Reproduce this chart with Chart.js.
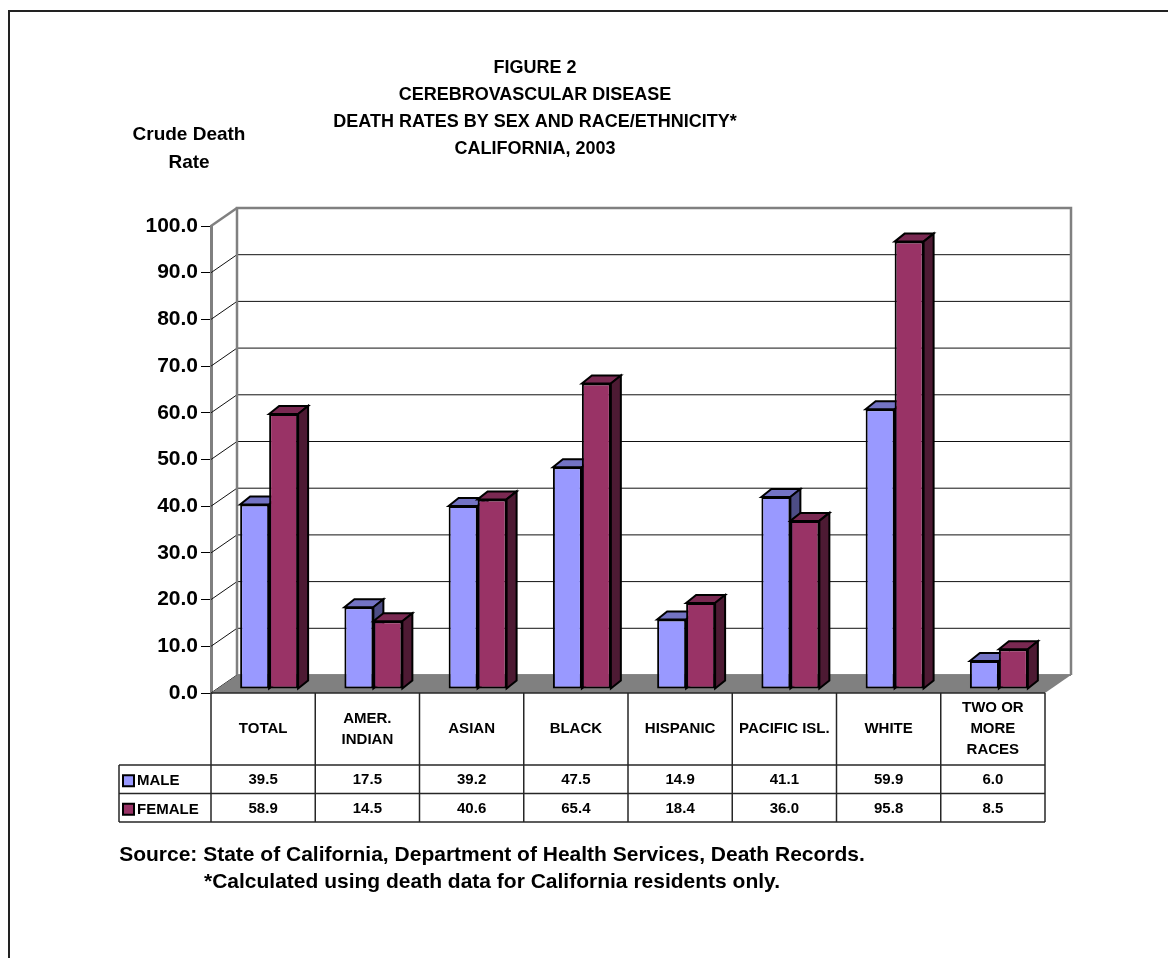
<!DOCTYPE html>
<html>
<head>
<meta charset="utf-8">
<title>Cerebrovascular Disease Death Rates by Sex and Race/Ethnicity, California 2003</title>
<script src="https://cdn.jsdelivr.net/npm/chart.js@4.4.1/dist/chart.umd.min.js"></script>
<style>
  html, body { margin: 0; padding: 0; background: #ffffff; }
  canvas { display: block; }
</style>
</head>
<body>
<canvas id="chart" width="1168" height="958"></canvas>
<script>
// ---- data ----
const categories = ['TOTAL', ['AMER.', 'INDIAN'], 'ASIAN', 'BLACK', 'HISPANIC', 'PACIFIC ISL.', 'WHITE', ['TWO OR', 'MORE', 'RACES']];
const maleRates = [39.5, 17.5, 39.2, 47.5, 14.9, 41.1, 59.9, 6.0];
const femaleRates = [58.9, 14.5, 40.6, 65.4, 18.4, 36.0, 95.8, 8.5];
const seriesNames = ['MALE', 'FEMALE'];
const yMin = 0;
const yMax = 100;
const yStep = 10;
const titleLines = ['FIGURE 2', 'CEREBROVASCULAR DISEASE', 'DEATH RATES BY SEX AND RACE/ETHNICITY*', 'CALIFORNIA, 2003'];
const axisTitleLines = ['Crude Death', 'Rate'];
const sourceLines = [
  'Source: State of California, Department of Health Services, Death Records.',
  '*Calculated using death data for California residents only.'
];

// ---- styling ----
const FONT = '"Liberation Sans", Arial, Helvetica, sans-serif';
const faces = [
  { front: '#9999FF', top: '#7373C4', side: '#4D4D86' },
  { front: '#993366', top: '#7A2952', side: '#4D1A33' }
];
const WALL_DX = 26, WALL_DY = -18;   // depth of the back wall
const BAR_OX = 6, BAR_OY = -4;       // bars sit slightly behind the front plane
const BAR_DX = 10, BAR_DY = -8;      // depth of each bar
const WALL_GRAY = '#808080';

function polygon(ctx, pts, fill, stroke, lw) {
  ctx.beginPath();
  ctx.moveTo(pts[0][0], pts[0][1]);
  for (let k = 1; k < pts.length; k++) ctx.lineTo(pts[k][0], pts[k][1]);
  ctx.closePath();
  if (fill) { ctx.fillStyle = fill; ctx.fill(); }
  if (stroke) { ctx.strokeStyle = stroke; ctx.lineWidth = lw; ctx.stroke(); }
}

function line(ctx, x1, y1, x2, y2, color, lw) {
  ctx.beginPath();
  ctx.moveTo(x1, y1);
  ctx.lineTo(x2, y2);
  ctx.strokeStyle = color;
  ctx.lineWidth = lw;
  ctx.stroke();
}

// Page background, frame, titles and the data table under the plot
const pagePlugin = {
  id: 'page',
  beforeDraw(chart) {
    const ctx = chart.ctx;
    ctx.save();
    ctx.fillStyle = '#ffffff';
    ctx.fillRect(0, 0, chart.width, chart.height);
    ctx.strokeStyle = '#222222';
    ctx.lineWidth = 2;
    ctx.strokeRect(9, 11, chart.width + 100, chart.height + 100);
    ctx.restore();
  },
  afterDraw(chart) {
    const ctx = chart.ctx;
    const xs = chart.scales.x;
    const area = chart.chartArea;
    ctx.save();
    ctx.fillStyle = '#000000';
    ctx.textBaseline = 'middle';

    // chart title
    ctx.font = 'bold 18px ' + FONT;
    ctx.textAlign = 'center';
    titleLines.forEach((t, k) => ctx.fillText(t, 535, 68.5 + k * 27));

    // value axis title
    ctx.font = 'bold 19px ' + FONT;
    axisTitleLines.forEach((t, k) => ctx.fillText(t, 189, 134.5 + k * 28.5));

    // data table
    const n = chart.data.labels.length;
    const half = (xs.getPixelForValue(1) - xs.getPixelForValue(0)) / 2;
    const edges = [];
    for (let i = 0; i < n; i++) edges.push(xs.getPixelForValue(i) - half);
    edges.push(xs.getPixelForValue(n - 1) + half);
    const top = area.bottom;
    const headBottom = top + 72;
    const rowH = 28.5;
    const legendLeft = 119;
    const tableBottom = headBottom + 2 * rowH;
    const tcol = '#262626';

    line(ctx, edges[0], top, edges[n], top, tcol, 1.5);
    for (let r = 0; r <= 2; r++) {
      const y = headBottom + r * rowH;
      line(ctx, legendLeft, y, edges[n], y, tcol, 1.5);
    }
    line(ctx, legendLeft, headBottom, legendLeft, tableBottom, tcol, 1.5);
    edges.forEach(x => line(ctx, x, top, x, tableBottom, tcol, 1.5));

    // column headings
    ctx.fillStyle = '#000000';
    ctx.font = 'bold 15px ' + FONT;
    ctx.textAlign = 'center';
    const headMid = (top + headBottom) / 2;
    chart.data.labels.forEach((lab, i) => {
      const lines = Array.isArray(lab) ? lab : [lab];
      const cx = xs.getPixelForValue(i);
      lines.forEach((t, k) => ctx.fillText(t, cx, headMid + (k - (lines.length - 1) / 2) * 21));
    });

    // value rows with legend keys
    chart.data.datasets.forEach((ds, d) => {
      const mid = headBottom + d * rowH + rowH / 2 + 1;
      ctx.textAlign = 'center';
      ctx.fillStyle = '#000000';
      ds.data.forEach((v, i) => ctx.fillText(v.toFixed(1), xs.getPixelForValue(i), mid));
      ctx.fillStyle = faces[d].front;
      ctx.fillRect(123, mid - 5, 11, 11);
      ctx.strokeStyle = '#000000';
      ctx.lineWidth = 2;
      ctx.strokeRect(123, mid - 5, 11, 11);
      ctx.fillStyle = '#000000';
      ctx.textAlign = 'left';
      ctx.fillText(ds.label, 137, mid + 1);
    });

    // footnotes
    ctx.font = 'bold 21px ' + FONT;
    ctx.textAlign = 'center';
    sourceLines.forEach((t, k) => ctx.fillText(t, 492, 855 + k * 27.5));
    ctx.restore();
  }
};

// Back wall, floor and 3-D bars drawn from the library's scales and bar elements
const depthPlugin = {
  id: 'depth3d',
  beforeDatasetsDraw(chart) {
    const ctx = chart.ctx;
    const ys = chart.scales.y;
    const area = chart.chartArea;
    const L = area.left, R = area.right;
    ctx.save();

    // back wall grid lines and their diagonals back from the value axis
    for (let v = yMin; v <= yMax; v += yStep) {
      const y = ys.getPixelForValue(v);
      if (v < yMax) {
        line(ctx, L + WALL_DX, y + WALL_DY, R + WALL_DX, y + WALL_DY, '#111111', 1);
        line(ctx, L, y, L + WALL_DX, y + WALL_DY, '#111111', 1);
      } else {
        line(ctx, L, y, L + WALL_DX, y + WALL_DY, WALL_GRAY, 2.5);
      }
    }
    // wall outline
    const yTop = ys.getPixelForValue(yMax) + WALL_DY;
    const yBase = ys.getPixelForValue(yMin) + WALL_DY;
    ctx.beginPath();
    ctx.moveTo(L + WALL_DX, yBase);
    ctx.lineTo(L + WALL_DX, yTop);
    ctx.lineTo(R + WALL_DX, yTop);
    ctx.lineTo(R + WALL_DX, yBase);
    ctx.strokeStyle = WALL_GRAY;
    ctx.lineWidth = 2.5;
    ctx.stroke();

    // floor
    const y0 = ys.getPixelForValue(yMin);
    polygon(ctx, [[L, y0], [R, y0], [R + WALL_DX, y0 + WALL_DY], [L + WALL_DX, y0 + WALL_DY]], WALL_GRAY, null, 0);

    // bars: within each category draw male then female so faces overlap correctly
    const metas = chart.data.datasets.map((_, d) => chart.getDatasetMeta(d));
    const count = chart.data.labels.length;
    ctx.translate(BAR_OX, BAR_OY);
    ctx.lineJoin = 'miter';
    for (let i = 0; i < count; i++) {
      metas.forEach((meta, d) => {
        const el = meta.data[i];
        if (!el) return;
        el.draw(ctx);
        const p = el.getProps(['x', 'y', 'base', 'width'], true);
        const l = p.x - p.width / 2, r = p.x + p.width / 2;
        const t = Math.min(p.y, p.base), b = Math.max(p.y, p.base);
        polygon(ctx, [[l, t], [l + BAR_DX, t + BAR_DY], [r + BAR_DX, t + BAR_DY], [r, t]], faces[d].top, '#000000', 2);
        polygon(ctx, [[r, t], [r + BAR_DX, t + BAR_DY], [r + BAR_DX, b + BAR_DY], [r, b]], faces[d].side, '#000000', 2);
      });
    }
    ctx.restore();
    return false;
  }
};

new Chart(document.getElementById('chart'), {
  type: 'bar',
  data: {
    labels: categories,
    datasets: [
      { label: seriesNames[0], data: maleRates, backgroundColor: faces[0].front },
      { label: seriesNames[1], data: femaleRates, backgroundColor: faces[1].front }
    ]
  },
  options: {
    responsive: false,
    animation: false,
    devicePixelRatio: 1,
    layout: { padding: { left: 131, right: 123, top: 226, bottom: 265 } },
    datasets: {
      bar: {
        borderColor: '#000000',
        borderWidth: 2,
        borderSkipped: false,
        barPercentage: 1,
        categoryPercentage: 0.556
      }
    },
    plugins: {
      legend: { display: false },
      tooltip: { enabled: false },
      title: { display: false }
    },
    scales: {
      x: { display: false },
      y: {
        min: yMin,
        max: yMax,
        afterFit(scale) { scale.width = 80; },
        ticks: {
          stepSize: yStep,
          padding: 3,
          color: '#000000',
          font: { family: FONT, size: 21, weight: 'bold' },
          callback: v => Number(v).toFixed(1)
        },
        grid: {
          drawOnChartArea: false,
          drawTicks: true,
          tickLength: 10,
          color: '#000000',
          lineWidth: 1
        },
        border: { display: true, color: WALL_GRAY, width: 3 }
      }
    }
  },
  plugins: [pagePlugin, depthPlugin]
});
</script>
</body>
</html>
